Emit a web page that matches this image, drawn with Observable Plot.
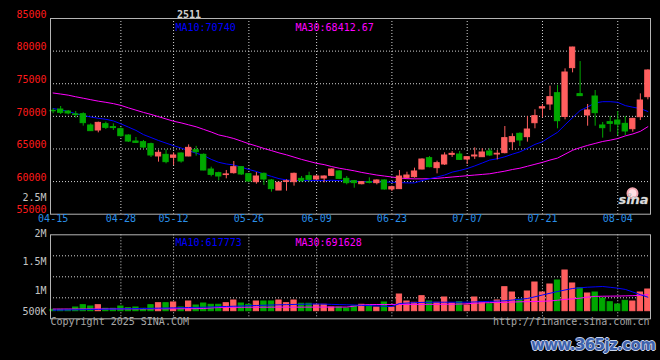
<!DOCTYPE html>
<html><head><meta charset="utf-8">
<script src="https://cdn.jsdelivr.net/npm/d3@7"></script>
<script src="https://cdn.jsdelivr.net/npm/@observablehq/plot@0.6"></script>
<style>
body{margin:0;background:#000;}
#wrap{position:relative;width:660px;height:360px;background:#000;overflow:hidden;}
#wrap svg{position:absolute;left:0;}
#wm{position:absolute;left:531px;top:336px;font:bold 15px "DejaVu Sans",sans-serif;color:#3d62ad;letter-spacing:-0.6px;
 text-shadow:1px 0 0 #c9d3ea,-1px 0 0 #c9d3ea,0 1px 0 #c9d3ea,0 -1px 0 #c9d3ea;}
</style></head>
<body><div id="wrap"><div id="wm">www.365jz.com</div></div>
<script>
const title = "2511";
const dates = ["04-15","04-16","04-17","04-18","04-21","04-22","04-23","04-24","04-25","04-28","04-29","04-30",
"05-06","05-07","05-08","05-09","05-12","05-13","05-14","05-15","05-16","05-19","05-20","05-21","05-22","05-23","05-26","05-27","05-28","05-29","05-30",
"06-03","06-04","06-05","06-06","06-09","06-10","06-11","06-12","06-13","06-16","06-17","06-18","06-19","06-20","06-23","06-24","06-25","06-26","06-27","06-30",
"07-01","07-02","07-03","07-04","07-07","07-08","07-09","07-10","07-11","07-14","07-15","07-16","07-17","07-18","07-21","07-22","07-23","07-24","07-25","07-28","07-29","07-30","07-31",
"08-01","08-04","08-05","08-06","08-07","08-08"];
const open  = [70850,71050,70740,70300,70330,68600,67830,68800,68350,68030,67060,66140,66040,65740,63850,64100,63650,64300,63850,64800,
64100,61850,61290,61000,61290,62210,61140,59910,61190,60170,58630,59950,59910,60420,60830,60320,60470,60880,61550,60420,
60060,59600,59910,59760,60170,58790,58840,60570,60680,61850,63590,62060,62620,64100,64150,63380,63850,63740,64610,64150,
64360,66040,67320,66810,68950,71200,71820,73550,69900,77390,73400,70130,73040,68600,69110,69360,68850,68030,69870,72940];
const close = [70780,70540,70440,70200,68960,67730,69000,68240,68200,66960,66140,65940,65220,64000,64410,62980,64000,63080,65170,64500,
61700,61030,60780,61100,62210,61090,60010,60780,60320,58840,59810,60050,61190,60060,60270,60780,60780,61850,60420,59760,
59760,59910,59800,60170,58790,59140,60780,60930,61550,63380,62210,62820,64000,64250,63330,63740,64000,64460,64000,64270,
66660,66810,66300,67980,70030,71400,72940,69260,76720,80550,73100,70900,70490,68190,68850,68750,67680,69620,72430,77030];
const high  = [71150,71510,70900,70740,70540,68850,69110,69110,68850,68250,67170,66760,66300,65890,64770,64870,64410,64400,65630,65400,
64250,62210,61440,61700,63080,62300,61250,61390,61300,60320,59910,60270,61300,60780,61440,60880,60880,61950,61650,60780,
60170,60010,60570,60270,60270,59300,61700,61440,62060,63490,63840,63130,64410,64600,64610,63840,65170,65030,65020,64760,
68440,67320,67470,69980,71000,71820,74630,74730,77280,80600,78400,71820,73960,69060,69980,70740,69980,69700,73450,77130];
const low   = [70400,70280,70230,69720,68500,67680,67470,67980,67830,66810,65990,65890,65020,63690,62980,62720,62470,62830,63800,63900,
61650,60730,60110,60420,61140,60940,59900,59600,59400,58380,58630,58530,59300,59910,59910,60170,59810,60780,60300,59500,
58990,59500,59650,59500,58700,58480,58840,60420,60520,61800,62110,61190,62470,63700,63230,62620,63400,63700,63840,63330,
64250,64760,65380,66040,68090,69770,70900,68090,69470,76670,73050,68490,68490,66660,67570,67060,67060,67570,69360,72530];
const volume = [257000,257000,257000,323000,389000,351000,389000,286000,286000,351000,303000,323000,286000,389000,446000,446000,466000,323000,494000,380000,
437000,400000,400000,446000,523000,437000,400000,494000,494000,494000,523000,446000,523000,429000,429000,400000,400000,323000,323000,294000,
360000,400000,380000,323000,466000,323000,694000,494000,457000,646000,494000,457000,609000,437000,474000,380000,609000,457000,417000,523000,
903000,751000,543000,780000,1037000,751000,980000,1094000,1380000,1009000,874000,723000,751000,580000,474000,409000,514000,494000,751000,837000];
const ma10 = [71200,71000,70750,70400,70150,69900,69700,69550,69300,68850,68350,67850,67200,66750,66300,65900,65500,65150,64750,64350,
64000,63400,62950,62700,62550,62200,61850,61550,61150,60800,60450,60250,60170,60150,60150,60150,60150,60200,60150,60100,
60050,60000,60000,59950,59950,59900,59850,59800,59800,60150,60450,60700,61000,61450,61700,62000,62400,62850,63300,63500,
63800,64200,64550,65100,65700,66100,66850,67550,68700,69800,70900,71450,72050,72250,72250,72150,71650,71400,71200,70740];
const ma30 = [73580,73420,73250,73000,72780,72550,72330,72150,71950,71680,71300,70950,70600,70300,69950,69600,69250,69000,68700,68400,
68000,67600,67150,66900,66600,66200,65800,65450,65080,64750,64400,64100,63750,63400,63100,62800,62600,62300,62050,61850,
61650,61400,61200,61000,60850,60700,60550,60450,60420,60420,60450,60500,60600,60700,60800,60900,61000,61100,61200,61400,
61600,61850,62050,62350,62650,62950,63300,63600,64200,64800,65200,65550,65850,66150,66350,66600,67000,67300,67700,68412.67];
const volMa10 = [246000,250000,254000,258000,262000,266000,270000,274000,278000,282000,286000,290000,295000,300000,305000,309000,313000,318000,322000,327000,
331000,338000,345000,352000,359000,366000,373000,380000,387000,394000,400000,405000,410000,415000,420000,423000,418000,412000,406000,400000,
394000,385000,376000,368000,360000,351000,437000,450000,460000,468000,474000,474000,474000,474000,474000,474000,482000,490000,498000,506000,
514000,535000,558000,580000,630000,680000,730000,780000,823000,866000,885000,903000,913000,923000,900000,874000,840000,766000,690000,617773];
const volMa30 = [278000,279000,279000,280000,280000,281000,281000,282000,282000,283000,283000,284000,284000,285000,285000,286000,286000,287000,288000,289000,
295000,310000,322000,326000,328000,329000,330000,331000,331000,332000,332000,333000,333000,333000,334000,334000,335000,335000,335000,336000,
360000,395000,405000,408000,409000,410000,410000,411000,411000,412000,413000,414000,416000,418000,420000,430000,445000,455000,462000,466000,
470000,478000,485000,490000,494000,500000,510000,530000,555000,570000,590000,620000,640000,645000,648000,650000,655000,660000,670000,691628];
const priceTicks = [55000,60000,65000,70000,75000,80000,85000];
const priceGrid = [60000,65000,70000,75000,80000];
const dateTicks = ["04-15","04-28","05-12","05-26","06-09","06-23","07-07","07-21","08-04"];
const volGrid = [600000,1200000,1800000];
const volLabelValues = [500000,1000000,1500000,2000000,2500000];
const volLabels = ["500K","1M","1.5M","2M","2.5M"];

const RED = "#ff5f5f", GREEN = "#00a800";
const rows = dates.map((d,i)=>({date:d, open:open[i], close:close[i], high:high[i], low:low[i],
  vol:volume[i], ma10:ma10[i], ma30:ma30[i], vma10:volMa10[i], vma30:volMa30[i]}));
const col = d => d.close >= d.open ? RED : GREEN;
const FONT = "'DejaVu Sans Mono', monospace";
const dotted = {stroke:"#d4d4d4", strokeDasharray:"1,2"};
const xOpts = {type:"band", domain:dates, paddingInner:0.3, paddingOuter:0, axis:null};
const wrap = document.getElementById("wrap");

const price = Plot.plot({
  width:660, height:232, marginLeft:50, marginRight:10, marginTop:18, marginBottom:18.3,
  style:{background:"transparent", fontFamily:FONT, fontSize:"10px", overflow:"visible"},
  x:xOpts, y:{domain:[55000,85000], axis:null}, color:{type:"identity"},
  marks:[
    Plot.ruleY(priceGrid, dotted),
    Plot.ruleX(dateTicks.slice(1), dotted),
    Plot.line(rows, {x:"date", y:"ma30", stroke:"#ff00ff", strokeWidth:1}),
    Plot.line(rows, {x:"date", y:"ma10", stroke:"#0000ff", strokeWidth:1}),
    Plot.ruleX(rows, {x:"date", y1:"low", y2:"high", stroke:col}),
    Plot.barY(rows, {x:"date", y1:"open", y2:"close", fill:col, stroke:col, strokeWidth:1}),
    Plot.frame({stroke:"#b4b4b4"}),
    Plot.text(priceTicks, {y:d=>d, text:d=>String(d), frameAnchor:"left", dx:-4, dy:-4, textAnchor:"end", fill:"#ff1a1a"}),
    Plot.text(dateTicks, {x:d=>d, text:d=>d, frameAnchor:"bottom", dy:7.8, fill:"#2a8fe8"}),
    Plot.text([title], {text:d=>d, frameAnchor:"top-left", dx:138.5, dy:-8, textAnchor:"middle", fill:"#d0d0d0", fontWeight:"bold"}),
    Plot.text([`MA10:${ma10.at(-1)}`], {text:d=>d, frameAnchor:"top-left", dx:125, dy:5.5, textAnchor:"start", fill:"#0000ff"}),
    Plot.text([`MA30:${ma30.at(-1)}`], {text:d=>d, frameAnchor:"top-left", dx:245, dy:5.5, textAnchor:"start", fill:"#ff00ff"}),
    Plot.dot([0], {frameAnchor:"bottom-right", dx:-18, dy:-21, r:5, stroke:"#f2a6b0", strokeWidth:2, fill:"#ffe0e4"}),
    Plot.text(["sina"], {text:d=>d, frameAnchor:"bottom-right", dx:-17, dy:-10, textAnchor:"middle", fontStyle:"italic", fontWeight:"bold", fontSize:13, fontFamily:"'DejaVu Sans', sans-serif", fill:"#dcdcdc", stroke:"#666", strokeWidth:0.5})
  ]
});
price.style.top = "0px";
wrap.appendChild(price);

const vol = Plot.plot({
  width:660, height:170, marginLeft:50, marginRight:10, marginTop:44.3, marginBottom:41.7,
  style:{background:"transparent", fontFamily:FONT, fontSize:"10px", overflow:"visible"},
  x:xOpts, y:{domain:[0,2400000], axis:null}, color:{type:"identity"},
  marks:[
    Plot.ruleY(volGrid, dotted),
    Plot.ruleX(dateTicks.slice(1), dotted),
    Plot.barY(rows, {x:"date", y:"vol", fill:col, stroke:col, strokeWidth:1, insetBottom:7.6}),
    Plot.line(rows, {x:"date", y:"vma30", stroke:"#ff00ff", strokeWidth:1}),
    Plot.line(rows, {x:"date", y:"vma10", stroke:"#0000ff", strokeWidth:1}),
    Plot.frame({stroke:"#b4b4b4"}),
    Plot.text([`MA10:${volMa10.at(-1)}`], {text:d=>d, frameAnchor:"top-left", dx:125, dy:4, textAnchor:"start", fill:"#0000ff"}),
    Plot.text([`MA30:${volMa30.at(-1)}`], {text:d=>d, frameAnchor:"top-left", dx:245, dy:4, textAnchor:"start", fill:"#ff00ff"}),
    Plot.text(["Copyright 2025 SINA.COM"], {text:d=>d, frameAnchor:"bottom-left", dy:5.7, textAnchor:"start", fill:"#a8a8a8"}),
    Plot.text(["http://finance.sina.com.cn"], {text:d=>d, frameAnchor:"bottom-right", dx:-1, dy:5.7, textAnchor:"end", fill:"#a8a8a8"})
  ]
});
vol.style.top = "190px";
wrap.appendChild(vol);

// Sina's volume-axis labels sit at uneven heights; a piecewise d3 scale reproduces them
const volLabelY = d3.scaleLinear().domain(volLabelValues).range([311, 290.5, 261, 233.5, 197.5]);
const volAxis = Plot.plot({
  width:50, height:360, margin:0,
  style:{background:"transparent", fontFamily:FONT, fontSize:"10px", overflow:"visible"},
  x:{axis:null}, y:{type:"identity", axis:null},
  marks:[
    Plot.text(volLabelValues, {y:d=>volLabelY(d), text:(d,i)=>volLabels[i], frameAnchor:"right", dx:-4, textAnchor:"end", fill:"#c4c4c4"})
  ]
});
volAxis.style.top = "0px";
wrap.appendChild(volAxis);
</script>
</body></html>
